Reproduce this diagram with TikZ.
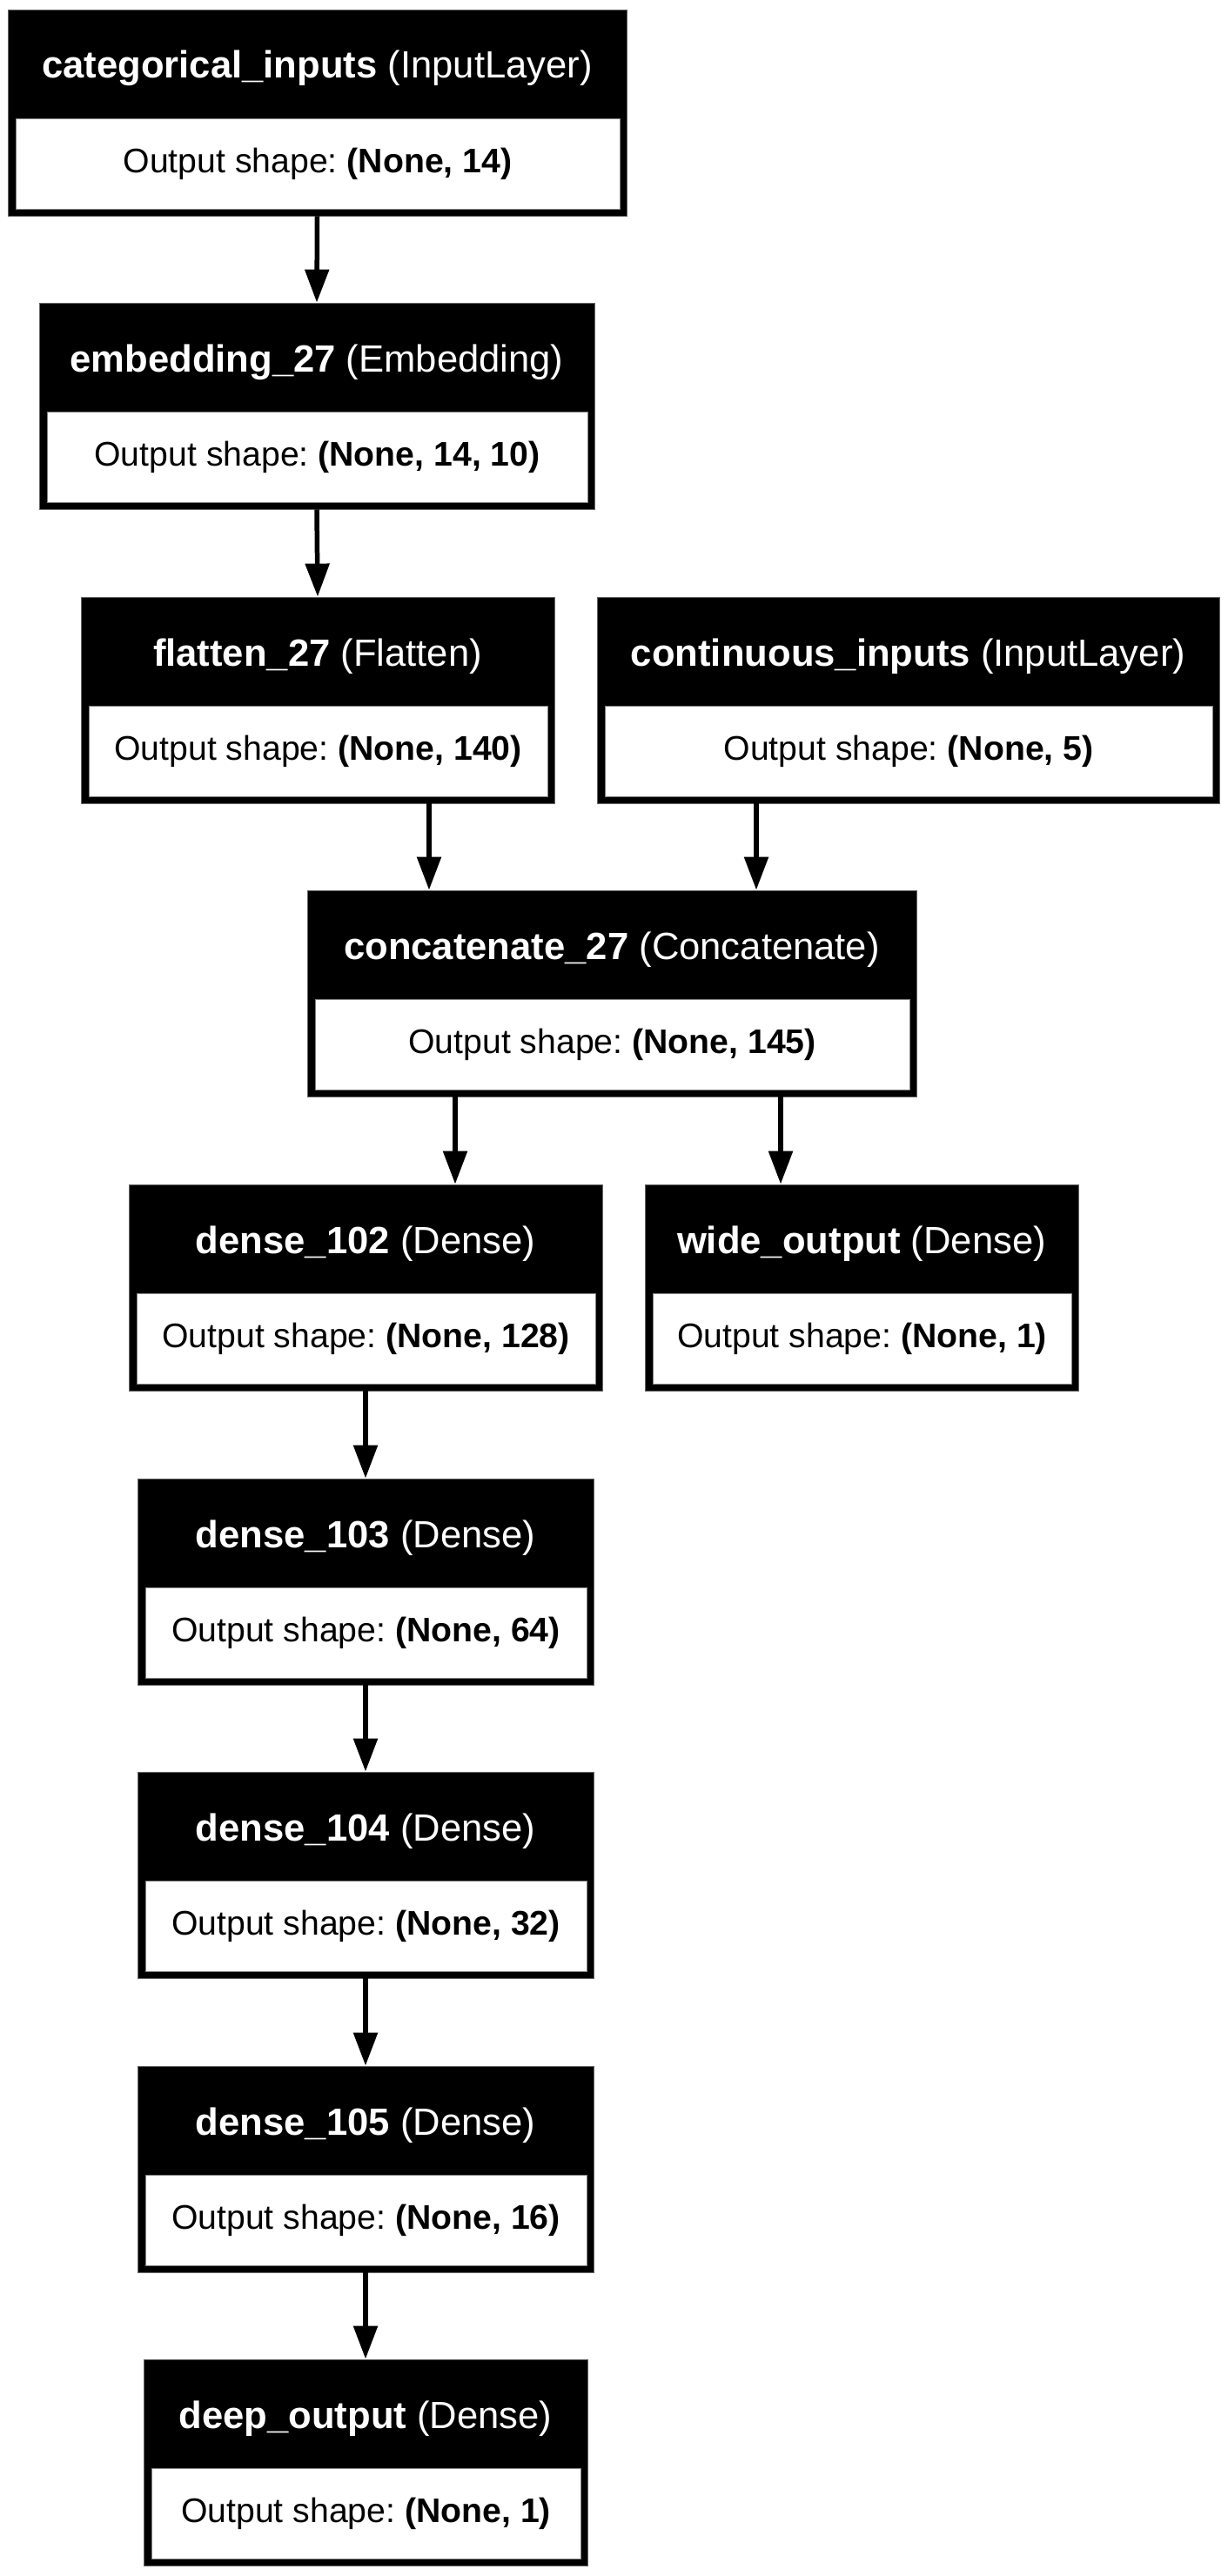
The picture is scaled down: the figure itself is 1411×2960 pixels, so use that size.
\documentclass[tikz,border=0pt]{standalone}
\usepackage{fontspec}
\setmainfont{Liberation Sans}
\usetikzlibrary{arrows.meta}
\frenchspacing

\begin{document}
\begin{tikzpicture}[x=0.5pt, y=0.5pt]
      \tikzstyle{every node}+=[inner sep=0pt]
      \tikzstyle{layerbox}=[fill=black, draw=black!60, line width=0.4pt, minimum height=118.5pt]
      \tikzstyle{shapebox}=[fill=white, draw=black!50, line width=0.4pt, minimum height=52pt, font=\fontsize{19.6}{23}\selectfont]
      \tikzstyle{headtext}=[text=white, anchor=base, font=\fontsize{21.8}{25}\selectfont]
      \tikzstyle{arr}=[line width=2.75pt, -{Triangle[width=13.5pt,length=19pt]}]
      \useasboundingbox [fill=white] (0,0) rectangle (1411,-2960);
      % input branch
      \node [layerbox, minimum width=355.5pt] (cat) at (364.5,-129.5) {};
      \node [shapebox, minimum width=347pt] (cat-shape) at (365,-188) {Output shape: \textbf{(None, 14)}};
      \node [headtext] (cat-name) at (364.5,-90) {\textbf{categorical\_inputs} (InputLayer)};
      \node [layerbox, minimum width=319pt] (emb) at (364,-466.5) {};
      \node [shapebox, minimum width=310.5pt] (emb-shape) at (364.5,-525) {Output shape: \textbf{(None, 14, 10)}};
      \node [headtext] (emb-name) at (364,-427) {\textbf{embedding\_27} (Embedding)};
      \node [layerbox, minimum width=272pt] (flat) at (365,-804.5) {};
      \node [shapebox, minimum width=263.5pt] (flat-shape) at (365.5,-863) {Output shape: \textbf{(None, 140)}};
      \node [headtext] (flat-name) at (365,-765) {\textbf{flatten\_27} (Flatten)};
      \node [layerbox, minimum width=357.5pt] (cont) at (1043.5,-804.5) {};
      \node [shapebox, minimum width=349pt] (cont-shape) at (1044,-863) {Output shape: \textbf{(None, 5)}};
      \node [headtext] (cont-name) at (1043.5,-765) {\textbf{continuous\_inputs} (InputLayer)};
      \node [layerbox, minimum width=350pt] (concat) at (703,-1141.5) {};
      \node [shapebox, minimum width=341.5pt] (concat-shape) at (703.5,-1200) {Output shape: \textbf{(None, 145)}};
      \node [headtext] (concat-name) at (703,-1102) {\textbf{concatenate\_27} (Concatenate)};
      % outputs
      \node [layerbox, minimum width=272pt] (d102) at (420,-1479.5) {};
      \node [shapebox, minimum width=263.5pt] (d102-shape) at (420.5,-1538) {Output shape: \textbf{(None, 128)}};
      \node [headtext] (d102-name) at (420,-1440) {\textbf{dense\_102} (Dense)};
      \node [layerbox, minimum width=249pt] (wide) at (990,-1479.5) {};
      \node [shapebox, minimum width=240.5pt] (wide-shape) at (990.5,-1538) {Output shape: \textbf{(None, 1)}};
      \node [headtext] (wide-name) at (990,-1440) {\textbf{wide\_output} (Dense)};
      \node [layerbox, minimum width=262pt] (d103) at (420,-1817.5) {};
      \node [shapebox, minimum width=253.5pt] (d103-shape) at (420.5,-1876) {Output shape: \textbf{(None, 64)}};
      \node [headtext] (d103-name) at (420,-1778) {\textbf{dense\_103} (Dense)};
      \node [layerbox, minimum width=262pt] (d104) at (420,-2154.5) {};
      \node [shapebox, minimum width=253.5pt] (d104-shape) at (420.5,-2213) {Output shape: \textbf{(None, 32)}};
      \node [headtext] (d104-name) at (420,-2115) {\textbf{dense\_104} (Dense)};
      \node [layerbox, minimum width=262pt] (d105) at (420,-2492.5) {};
      \node [shapebox, minimum width=253.5pt] (d105-shape) at (420.5,-2551) {Output shape: \textbf{(None, 16)}};
      \node [headtext] (d105-name) at (420,-2453) {\textbf{dense\_105} (Dense)};
      \node [layerbox, minimum width=255pt] (deep) at (420,-2829.5) {};
      \node [shapebox, minimum width=246.5pt] (deep-shape) at (420.5,-2888) {Output shape: \textbf{(None, 1)}};
      \node [headtext] (deep-name) at (420,-2790) {\textbf{deep\_output} (Dense)};
      % edges
      \coordinate (x1) at (493,0);
      \coordinate (x2) at (869,0);
      \coordinate (x3) at (523,0);
      \coordinate (x4) at (897,0);
      \draw [arr] (cat.south) -- (emb.north);
      \draw [arr] (emb.south) -- (flat.north);
      \draw [arr] (flat.south -| x1) -- (concat.north -| x1);
      \draw [arr] (cont.south -| x2) -- (concat.north -| x2);
      \draw [arr] (concat.south -| x3) -- (d102.north -| x3);
      \draw [arr] (concat.south -| x4) -- (wide.north -| x4);
      \draw [arr] (d102.south) -- (d103.north);
      \draw [arr] (d103.south) -- (d104.north);
      \draw [arr] (d104.south) -- (d105.north);
      \draw [arr] (d105.south) -- (deep.north);
\end{tikzpicture}
\end{document}
